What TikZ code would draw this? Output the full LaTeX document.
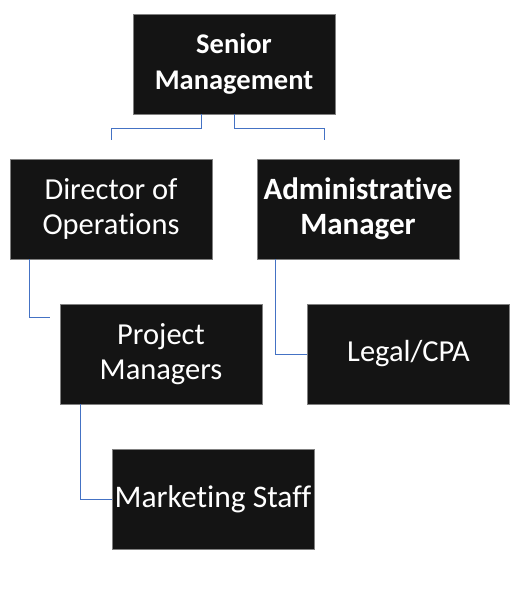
\documentclass[tikz,border=0pt]{standalone}
\usepackage{fontspec}
\setmainfont[Ligatures={NoCommon,NoRare,NoContextual}]{Carlito}
\definecolor{boxfill}{HTML}{141414}
\definecolor{boxline}{HTML}{808080}
\definecolor{linkblue}{HTML}{4472C4}
\begin{document}
\begin{tikzpicture}[x=1pt,y=-1pt,
  orgbox/.style={draw=boxline,line width=0.8pt,fill=boxfill,text=white,
    minimum width=202pt,minimum height=100pt,inner sep=0pt,align=center,
    font=\fontsize{30.5}{35}\selectfont},
  boldbox/.style={orgbox,font=\fontsize{30}{35}\selectfont\bfseries},
  link/.style={draw=linkblue,line width=0.9pt}]
\useasboundingbox (0,0) rectangle (523,591);
\node[boldbox,font=\fontsize{28.5}{36}\selectfont\bfseries] (sm) at (234,64) {Senior\\Management};
\node[orgbox] (do) at (111,209) {Director of\\Operations};
\node[boldbox,font=\fontsize{31}{35}\selectfont\bfseries] (am) at (358,209) {Administrative\\Manager};
\node[orgbox] (pm) at (161,354) {Project\\Managers};
\node[orgbox] (legal) at (408.5,354) {Legal/CPA};
\node[orgbox,font=\fontsize{31.5}{35}\selectfont] (ms) at (213,499) {Marketing Staff};
\draw[link] ([xshift=-33pt]sm.south) -- ++(0,14) -| ([yshift=19pt]do.north);
\draw[link] (sm.south) -- ++(0,14) -| ([xshift=-34pt,yshift=19pt]am.north);
\draw[link] ([xshift=20pt]do.south west) |- ([xshift=-10pt,yshift=37pt]pm.west);
\draw[link] ([xshift=19pt]am.south west) |- (legal.west);
\draw[link] ([xshift=21pt]pm.south west) |- (ms.west);
\end{tikzpicture}
\end{document}
